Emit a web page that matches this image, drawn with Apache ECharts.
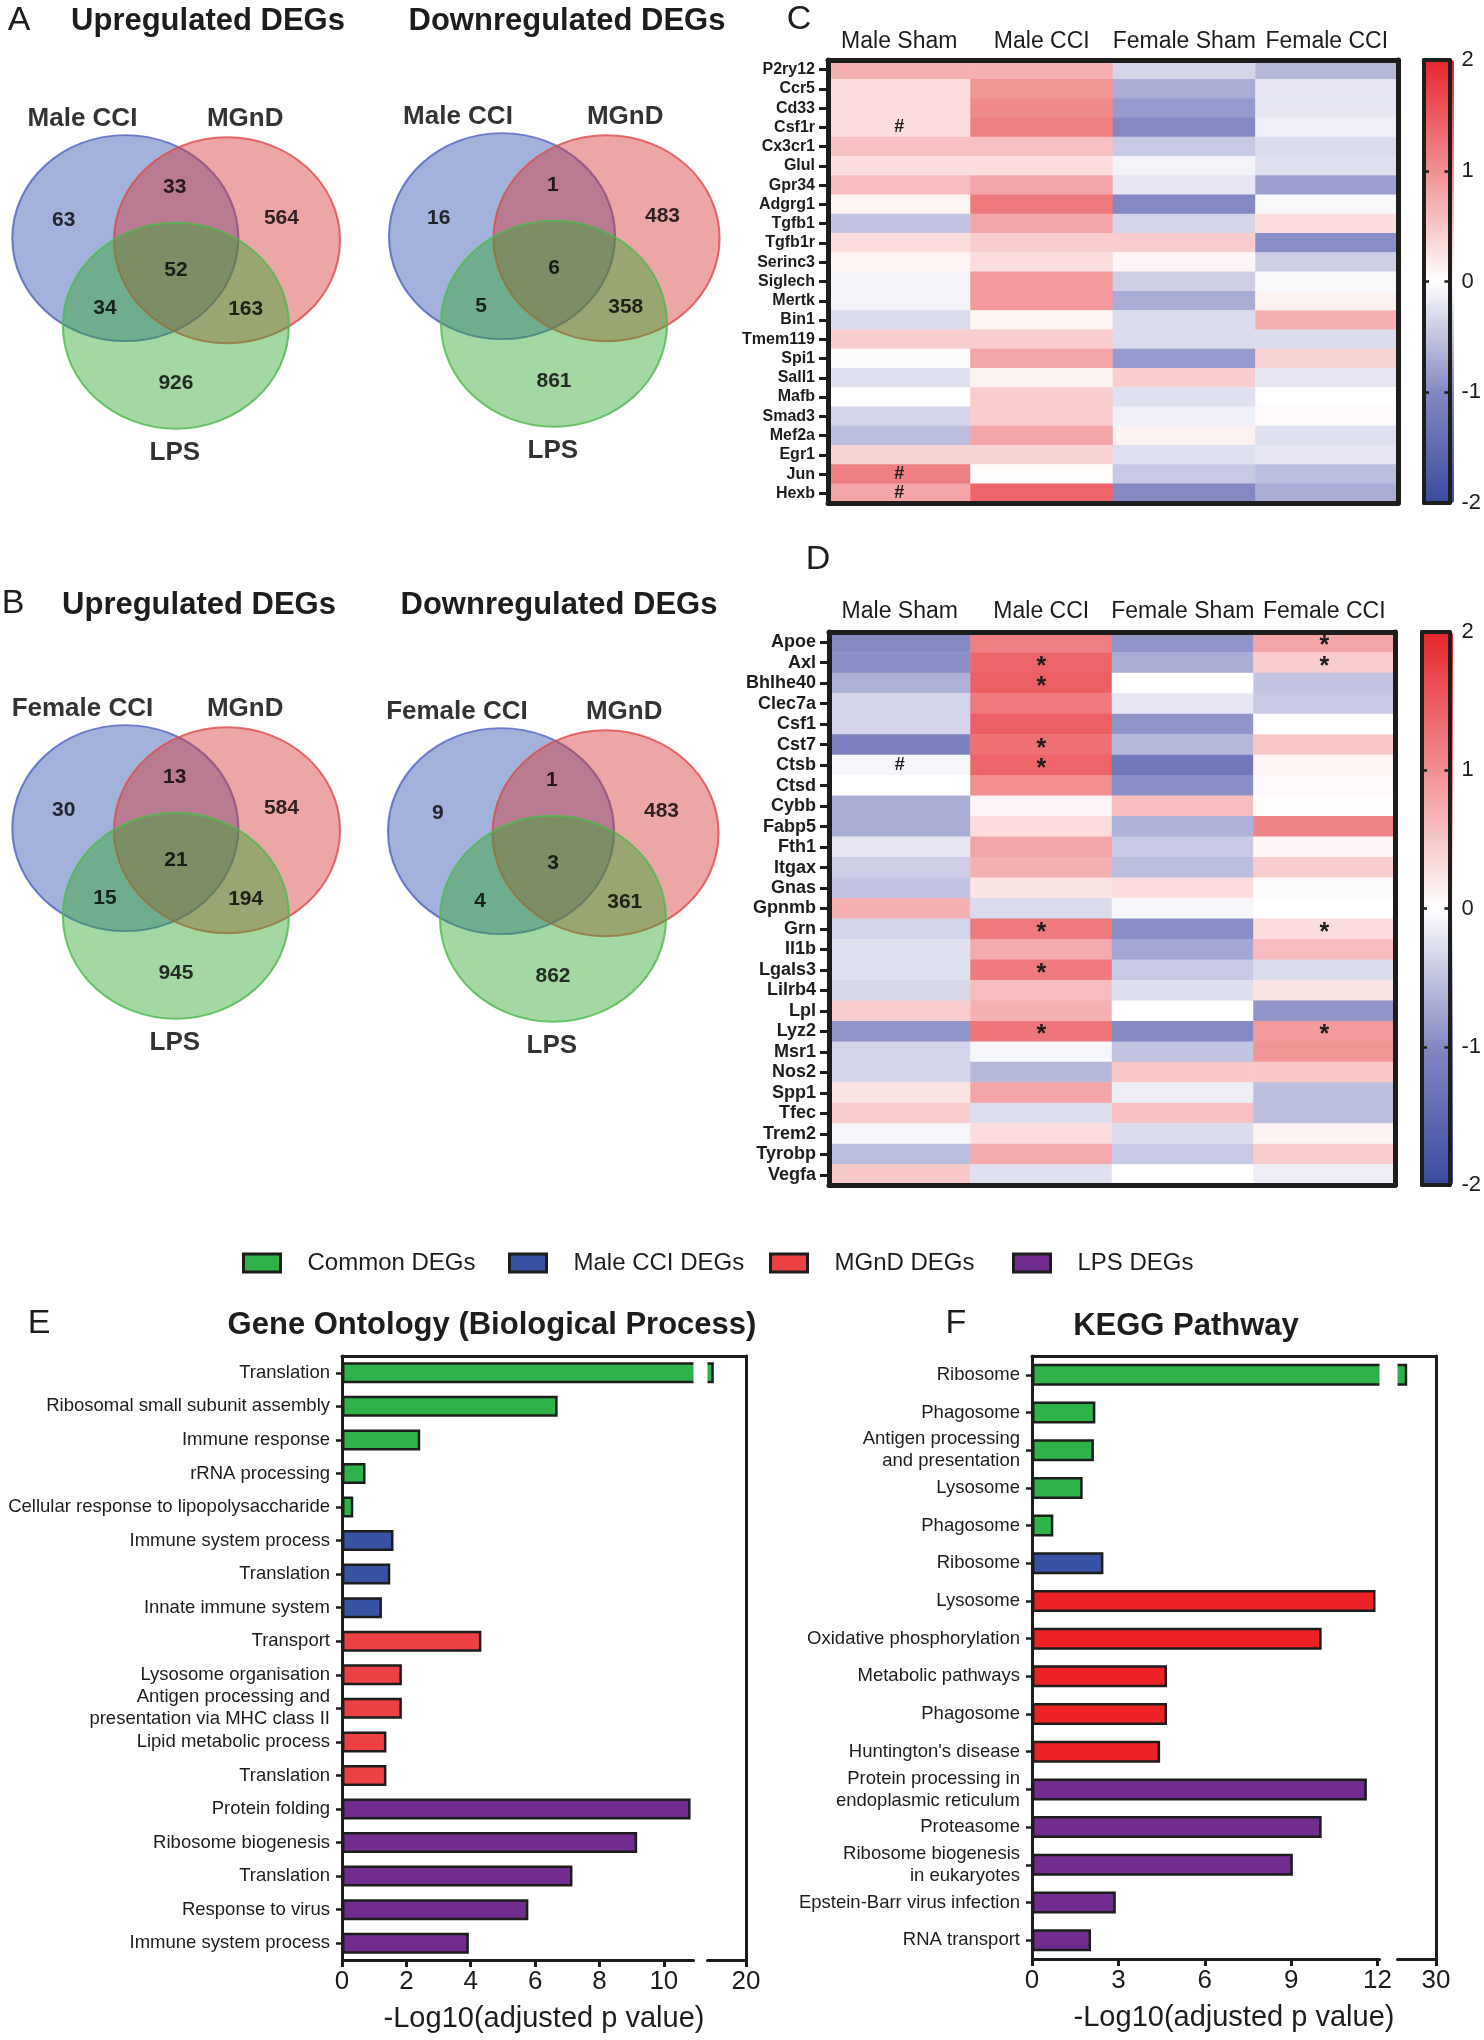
<!DOCTYPE html>
<html><head><meta charset="utf-8">
<script src="https://cdn.jsdelivr.net/npm/echarts@6/dist/echarts.min.js"></script>
<style>html,body{margin:0;padding:0;background:#fff}#c{width:1484px;height:2040px}</style>
</head><body><div id="c"></div>
<script>
// ---------------- DATA ----------------
// Venn diagrams: region order = [set1 only, set1∩set2, set2 only, all three, set1∩set3, set2∩set3, set3 only]
const vennSetsAUp = ['Male CCI', 'MGnD', 'LPS'];
const vennCountsAUp = [63, 33, 564, 52, 34, 163, 926];
const vennSetsADown = ['Male CCI', 'MGnD', 'LPS'];
const vennCountsADown = [16, 1, 483, 6, 5, 358, 861];
const vennSetsBUp = ['Female CCI', 'MGnD', 'LPS'];
const vennCountsBUp = [30, 13, 584, 21, 15, 194, 945];
const vennSetsBDown = ['Female CCI', 'MGnD', 'LPS'];
const vennCountsBDown = [9, 1, 483, 3, 4, 361, 862];

// Heatmaps
const heatCols = ['Male Sham', 'Male CCI', 'Female Sham', 'Female CCI'];
const heatCGenes = ['P2ry12','Ccr5','Cd33','Csf1r','Cx3cr1','Glul','Gpr34','Adgrg1','Tgfb1','Tgfb1r','Serinc3','Siglech','Mertk','Bin1','Tmem119','Spi1','Sall1','Mafb','Smad3','Mef2a','Egr1','Jun','Hexb'];
const heatCMaleSham   = [0.7,0.3,0.3,0.3,0.55,0.3,0.6,0.1,-0.5,0.3,0.1,-0.1,-0.1,-0.3,0.45,-0.03,-0.25,0,-0.35,-0.55,0.4,1.15,0.8];
const heatCMaleCCI    = [0.7,0.95,1.05,1.15,0.55,0.3,0.8,1.2,0.8,0.45,0.3,0.9,0.9,0.1,0.45,0.8,0.12,0.45,0.45,0.8,0.4,0.03,1.4];
const heatCFemaleSham = [-0.35,-0.7,-0.85,-1.0,-0.45,-0.1,-0.2,-1.0,-0.35,0.45,0.08,-0.4,-0.7,-0.3,-0.3,-0.85,0.45,-0.25,-0.12,0.12,-0.25,-0.45,-1.0];
const heatCFemaleCCI  = [-0.6,-0.2,-0.2,-0.12,-0.3,-0.25,-0.8,-0.05,0.3,-0.95,-0.4,-0.05,0.12,0.7,-0.3,0.4,-0.2,0,0.05,-0.25,-0.2,-0.55,-0.7];
const heatCMarks = [['Csf1r','Male Sham','#'],['Jun','Male Sham','#'],['Hexb','Male Sham','#']];

const heatDGenes = ['Apoe','Axl','Bhlhe40','Clec7a','Csf1','Cst7','Ctsb','Ctsd','Cybb','Fabp5','Fth1','Itgax','Gnas','Gpnmb','Grn','Il1b','Lgals3','Lilrb4','Lpl','Lyz2','Msr1','Nos2','Spp1','Tfec','Trem2','Tyrobp','Vegfa'];
const heatDMaleSham   = [-1.0,-0.95,-0.65,-0.35,-0.35,-1.1,-0.07,0,-0.7,-0.7,-0.2,-0.4,-0.5,0.7,-0.35,-0.25,-0.25,-0.33,0.45,-0.9,-0.35,-0.35,0.25,0.45,-0.08,-0.55,0.5];
const heatDMaleCCI    = [1.15,1.4,1.45,1.2,1.45,1.3,1.4,1.0,0.08,0.3,0.8,0.7,0.25,-0.3,1.2,0.75,1.2,0.6,0.7,1.25,-0.07,-0.6,0.8,-0.28,0.3,0.75,-0.25];
const heatDFemaleSham = [-0.9,-0.7,0,-0.2,-0.9,-0.6,-1.25,-0.95,0.6,-0.65,-0.45,-0.55,0.3,-0.08,-0.95,-0.75,-0.45,-0.28,0,-1.0,-0.5,0.5,-0.15,0.55,-0.3,-0.45,0];
const heatDFemaleCCI  = [0.8,0.45,-0.5,-0.45,0,0.5,0.1,0.05,0.03,1.1,0.08,0.45,-0.03,0,0.3,0.6,-0.3,0.25,-0.9,0.9,0.95,0.5,-0.55,-0.55,0.12,0.45,-0.15];
const heatDMarks = [['Apoe','Female CCI','*'],['Axl','Male CCI','*'],['Axl','Female CCI','*'],['Bhlhe40','Male CCI','*'],['Cst7','Male CCI','*'],['Ctsb','Male Sham','#'],['Ctsb','Male CCI','*'],['Grn','Male CCI','*'],['Grn','Female CCI','*'],['Lgals3','Male CCI','*'],['Lyz2','Male CCI','*'],['Lyz2','Female CCI','*']];
const colorbarTicks = [-2, -1, 0, 1, 2];

// Enrichment bar charts
const legendNames = ['Common DEGs', 'Male CCI DEGs', 'MGnD DEGs', 'LPS DEGs'];
const goTerms = ['Translation','Ribosomal small subunit assembly','Immune response','rRNA processing','Cellular response to lipopolysaccharide','Immune system process','Translation','Innate immune system','Transport','Lysosome organisation','Antigen processing and\npresentation via MHC class II','Lipid metabolic process','Translation','Protein folding','Ribosome biogenesis','Translation','Response to virus','Immune system process'];
const goGroup  = [0,0,0,0,0,1,1,1,2,2,2,2,2,3,3,3,3,3];
const goValues = [19.0,6.7,2.43,0.73,0.35,1.6,1.5,1.24,4.33,1.86,1.86,1.38,1.38,10.83,9.17,7.16,5.79,3.94];
const goTicks  = [0,2,4,6,8,10,20];

const keggTerms = ['Ribosome','Phagosome','Antigen processing\nand presentation','Lysosome','Phagosome','Ribosome','Lysosome','Oxidative phosphorylation','Metabolic pathways','Phagosome',"Huntington's disease",'Protein processing in\nendoplasmic reticulum','Proteasome','Ribosome biogenesis\nin eukaryotes','Epstein-Barr virus infection','RNA transport'];
const keggGroup  = [0,0,0,0,0,1,2,2,2,2,2,3,3,3,3,3];
const keggValues = [29.0,2.2,2.15,1.76,0.74,2.48,11.93,10.06,4.69,4.69,4.45,11.63,10.06,9.06,2.91,2.05];
const keggTicks  = [0,3,6,9,12,30];

// ---------------- LAYOUT / STYLE ----------------
const FONT = "'Liberation Sans', Arial, Helvetica, sans-serif";
const INK = '#1d1d1b';
const chart = echarts.init(document.getElementById('c'), null, {renderer: 'canvas', width: 1484, height: 2040});
const grid = [], xAxis = [], yAxis = [], series = [], visualMap = [], graphic = [], legend = [];

// ---- Venn ----
const vennLayout = [{cx:171, cy:268}, {cx:554, cy:266}, {cx:171, cy:858}, {cx:553, cy:861}];
const vennDefs = [[vennSetsAUp, vennCountsAUp], [vennSetsADown, vennCountsADown], [vennSetsBUp, vennCountsBUp], [vennSetsBDown, vennCountsBDown]];
const RX = 113, RY = 103;
const circleCenters = [[-0.46, 0.29], [0.465, 0.27], [0, -0.56]];
const regionPos = [[-1.02,0.46],[-0.01,0.78],[0.96,0.48],[0,-0.02],[-0.645,-0.39],[0.635,-0.40],[0,-1.12]];
const setLabelPos = [[-0.85,1.45],[0.63,1.45],[-0.01,-1.79]];
const vennFill = ['rgba(46,80,171,0.55)', 'rgba(213,53,53,0.55)', 'rgba(48,166,46,0.55)'];
const vennStroke = ['#5262c2', '#de4b4b', '#4fb94c'];
const ELLIPSE = 'path://M1,0C1,0.5523 0.5523,1 0,1C-0.5523,1 -1,0.5523 -1,0C-1,-0.5523 -0.5523,-1 0,-1C0.5523,-1 1,-0.5523 1,0Z';

vennDefs.forEach(([sets, counts], i) => {
  const L = vennLayout[i];
  const gi = grid.length;
  grid.push({left: L.cx - 1.6 * RX, top: L.cy - 1.7 * RY, width: 3.2 * RX, height: 3.7 * RY});
  const xi = xAxis.length, yi = yAxis.length;
  xAxis.push({type: 'value', gridIndex: gi, min: -1.6, max: 1.6, show: false});
  yAxis.push({type: 'value', gridIndex: gi, min: -2.0, max: 1.7, show: false});
  series.push({
    type: 'scatter', xAxisIndex: xi, yAxisIndex: yi, symbol: ELLIPSE, symbolSize: [2 * RX, 2 * RY],
    silent: true, clip: false, z: 1,
    data: circleCenters.map((c, k) => ({value: c, itemStyle: {color: vennFill[k], borderColor: vennStroke[k], borderWidth: 2}}))
  });
  const labels = counts.map((n, k) => ({name: String(n), value: regionPos[k], label: {fontSize: 21}}))
    .concat(sets.map((s, k) => ({name: s, value: setLabelPos[k], label: {fontSize: 26}})));
  series.push({
    type: 'scatter', xAxisIndex: xi, yAxisIndex: yi, symbolSize: 2, itemStyle: {color: 'rgba(0,0,0,0)'},
    silent: true, clip: false, z: 3, data: labels,
    labelLayout: {hideOverlap: false},
    label: {show: true, position: 'inside', formatter: '{b}', color: '#000000', textBorderWidth: 0,
      fontWeight: 'bold', fontFamily: FONT}
  });
});

// ---- Heatmaps ----
const heatColors = ['#3a4b9f', '#8488c3', '#ffffff', '#f18f91', '#e6262c'];
function addHeat(genes, colsVals, marks, box, cb, labelSize, labelMargin) {
  const gi = grid.length;
  grid.push({left: box.left, top: box.top, width: box.width, height: box.height});
  const xi = xAxis.length, yi = yAxis.length;
  const lineW = {show: true, onZero: false, lineStyle: {width: 5, color: INK}};
  xAxis.push({type: 'category', gridIndex: gi, data: heatCols, position: 'top', axisLine: lineW, axisTick: {show: false},
    axisLabel: {interval: 0, fontSize: 23, margin: labelMargin, color: INK, fontFamily: FONT}, splitLine: {show: false}, z: 5});
  xAxis.push({type: 'category', gridIndex: gi, data: heatCols, position: 'bottom', axisLine: lineW, axisTick: {show: false},
    axisLabel: {show: false}, splitLine: {show: false}, z: 5});
  yAxis.push({type: 'category', gridIndex: gi, data: genes, inverse: true, position: 'left', axisLine: lineW,
    axisTick: {show: true, interval: 0, alignWithLabel: true, length: 9, lineStyle: {width: 3, color: INK}},
    axisLabel: {interval: 0, fontSize: labelSize, fontWeight: 'bold', margin: 13, color: INK, fontFamily: FONT}, splitLine: {show: false}, z: 5});
  yAxis.push({type: 'category', gridIndex: gi, data: genes, inverse: true, position: 'right', axisLine: lineW,
    axisTick: {show: false}, axisLabel: {show: false}, splitLine: {show: false}, z: 5});
  const markMap = {};
  marks.forEach(m => { markMap[genes.indexOf(m[0]) + '|' + heatCols.indexOf(m[1])] = m[2]; });
  const data = [];
  colsVals.forEach((vals, c) => vals.forEach((v, r) => data.push([c, r, v])));
  const si = series.length;
  series.push({
    type: 'heatmap', xAxisIndex: xi, yAxisIndex: yi, data: data, silent: true, z: 2,
    emphasis: {disabled: true},
    label: {show: true, color: INK, fontFamily: FONT,
      formatter: p => { const m = markMap[p.value[1] + '|' + p.value[0]]; return m ? (m === '#' ? '{h|#}' : '{s|*}') : ''; },
      rich: {h: {fontSize: 18, fontWeight: 'bold', color: INK, fontFamily: FONT}, s: {fontSize: 25, fontWeight: 'bold', color: INK, fontFamily: FONT, padding: [8, 0, 0, 0]}}}
  });
  visualMap.push({type: 'continuous', seriesIndex: si, min: -2, max: 2, inRange: {color: heatColors},
    orient: 'vertical', left: cb.left, top: cb.top, itemWidth: cb.width, itemHeight: cb.height, padding: 0,
    calculable: false, hoverLink: false, text: null, z: 4});
  // colour-bar frame and ticks
  const cg = grid.length;
  grid.push({left: cb.left, top: cb.top, width: cb.width, height: cb.height});
  const cbLine = {show: true, onZero: false, lineStyle: {width: 4, color: INK}};
  xAxis.push({type: 'value', gridIndex: cg, min: 0, max: 1, position: 'top', axisLine: cbLine, axisTick: {show: false}, axisLabel: {show: false}, splitLine: {show: false}, z: 10});
  xAxis.push({type: 'value', gridIndex: cg, min: 0, max: 1, position: 'bottom', axisLine: cbLine, axisTick: {show: false}, axisLabel: {show: false}, splitLine: {show: false}, z: 10});
  yAxis.push({type: 'value', gridIndex: cg, min: -2, max: 2, interval: 1, position: 'right', axisLine: cbLine,
    axisTick: {show: true, inside: true, length: 5, lineStyle: {width: 2.5, color: INK}},
    axisLabel: {fontSize: 22, margin: 12, color: INK, fontFamily: FONT, formatter: v => colorbarTicks.includes(v) ? String(v) : ''},
    splitLine: {show: false}, z: 10});
  yAxis.push({type: 'value', gridIndex: cg, min: -2, max: 2, interval: 1, position: 'left', axisLine: cbLine,
    axisTick: {show: true, inside: true, length: 5, lineStyle: {width: 2.5, color: INK}},
    axisLabel: {show: false}, splitLine: {show: false}, z: 10});
}
addHeat(heatCGenes, [heatCMaleSham, heatCMaleCCI, heatCFemaleSham, heatCFemaleCCI], heatCMarks,
  {left: 828, top: 60, width: 570, height: 443}, {left: 1424, top: 60, width: 30, height: 443}, 16, 7);
addHeat(heatDGenes, [heatDMaleSham, heatDMaleCCI, heatDFemaleSham, heatDFemaleCCI], heatDMarks,
  {left: 829, top: 632, width: 566, height: 553}, {left: 1422, top: 632, width: 31, height: 553}, 18, 9);

// ---- Bar charts ----
const goColors = ['#2db34a', '#3953a4', '#ee4145', '#702c8f'];
const keggColors = ['#2db34a', '#3953a4', '#ec2227', '#702c8f'];
function addBars(terms, groups, values, ticks, colors, box, maxV, brk, interval, stackName, barW) {
  const gi = grid.length;
  grid.push({left: box.left, top: box.top, width: box.width, height: box.height});
  const xi = xAxis.length, yi = yAxis.length;
  const line = {show: true, onZero: false, lineStyle: {width: 3, color: INK}};
  xAxis.push({type: 'value', gridIndex: gi, min: 0, max: maxV, interval: interval, position: 'bottom',
    breaks: [brk],
    breakArea: {show: true, itemStyle: {color: '#ffffff', borderColor: '#ffffff', borderWidth: 0, opacity: 1}, zigzagAmplitude: 0, zigzagZ: 3},
    axisLine: line, axisTick: {show: true, customValues: ticks, length: 7, lineStyle: {width: 3, color: INK}},
    axisLabel: {customValues: ticks, fontSize: 26, margin: 9, color: INK, fontFamily: FONT},
    splitLine: {show: false},
    name: '-Log10(adjusted p value)', nameLocation: 'middle', nameGap: 44,
    nameTextStyle: {fontSize: 29, color: INK, fontFamily: FONT}, z: 4});
  xAxis.push({type: 'value', gridIndex: gi, min: 0, max: maxV, position: 'top', axisLine: line,
    axisTick: {show: false}, axisLabel: {show: false}, splitLine: {show: false}, z: 5});
  yAxis.push({type: 'category', gridIndex: gi, data: terms, inverse: true, position: 'left', axisLine: line,
    axisTick: {show: true, interval: 0, alignWithLabel: true, length: 6, lineStyle: {width: 2.5, color: INK}},
    axisLabel: {interval: 0, fontSize: 18.5, margin: 12, color: INK, fontFamily: FONT, lineHeight: 22}, splitLine: {show: false}, z: 5});
  yAxis.push({type: 'category', gridIndex: gi, data: terms, inverse: true, position: 'right', axisLine: line,
    axisTick: {show: false}, axisLabel: {show: false}, splitLine: {show: false}, z: 5});
  legendNames.forEach((n, g) => {
    series.push({type: 'bar', name: n, xAxisIndex: xi, yAxisIndex: yi, stack: stackName, barWidth: barW, silent: true, z: 2,
      data: values.map((v, i) => groups[i] === g ? v : '-'),
      itemStyle: {color: colors[g], borderColor: INK, borderWidth: 2.5}});
  });
}
addBars(goTerms, goGroup, goValues, goTicks, goColors, {left: 342, top: 1356, width: 404, height: 604}, 20,
  {start: 10.9, end: 18.8, gap: '3.6%'}, 2, 'go', 21);
addBars(keggTerms, keggGroup, keggValues, keggTicks, keggColors, {left: 1032, top: 1356, width: 404, height: 603}, 30,
  {start: 12.05, end: 28.65, gap: '4.5%'}, 3, 'kegg', 22);

// ---- Legend ----
const legendX = [242, 508, 769, 1012];
legendNames.forEach((n, i) => {
  legend.push({data: [n], left: legendX[i], top: 1251, padding: 0, itemWidth: 37, itemHeight: 18, icon: 'rect',
    selectedMode: false, itemStyle: {borderColor: INK, borderWidth: 3},
    textStyle: {fontSize: 24, color: INK, fontFamily: FONT, padding: [0, 0, 0, 22]}});
});

// ---- Text (titles, panel letters) ----
function txt(t, x, y, font) {
  graphic.push({type: 'text', x: x, y: y, silent: true, z: 20,
    style: {text: t, fill: INK, font: font, align: 'center', verticalAlign: 'middle', textAlign: 'center', textVerticalAlign: 'middle'}});
}
const letterFont = '34px ' + FONT, titleFont = 'bold 31px ' + FONT;
txt('A', 19, 21, letterFont); txt('B', 13, 604, letterFont); txt('C', 799, 20, letterFont);
txt('D', 818, 560, letterFont); txt('E', 39, 1324, letterFont); txt('F', 956, 1324, letterFont);
txt('Upregulated DEGs', 208, 21, titleFont); txt('Downregulated DEGs', 567, 21, titleFont);
txt('Upregulated DEGs', 199, 605, titleFont); txt('Downregulated DEGs', 559, 605, titleFont);
txt('Gene Ontology (Biological Process)', 492, 1325, titleFont);
txt('KEGG Pathway', 1186, 1326, titleFont);

chart.setOption({
  animation: false,
  backgroundColor: '#ffffff',
  textStyle: {fontFamily: FONT},
  grid: grid, xAxis: xAxis, yAxis: yAxis, series: series, visualMap: visualMap, legend: legend, graphic: graphic
});
</script></body></html>
